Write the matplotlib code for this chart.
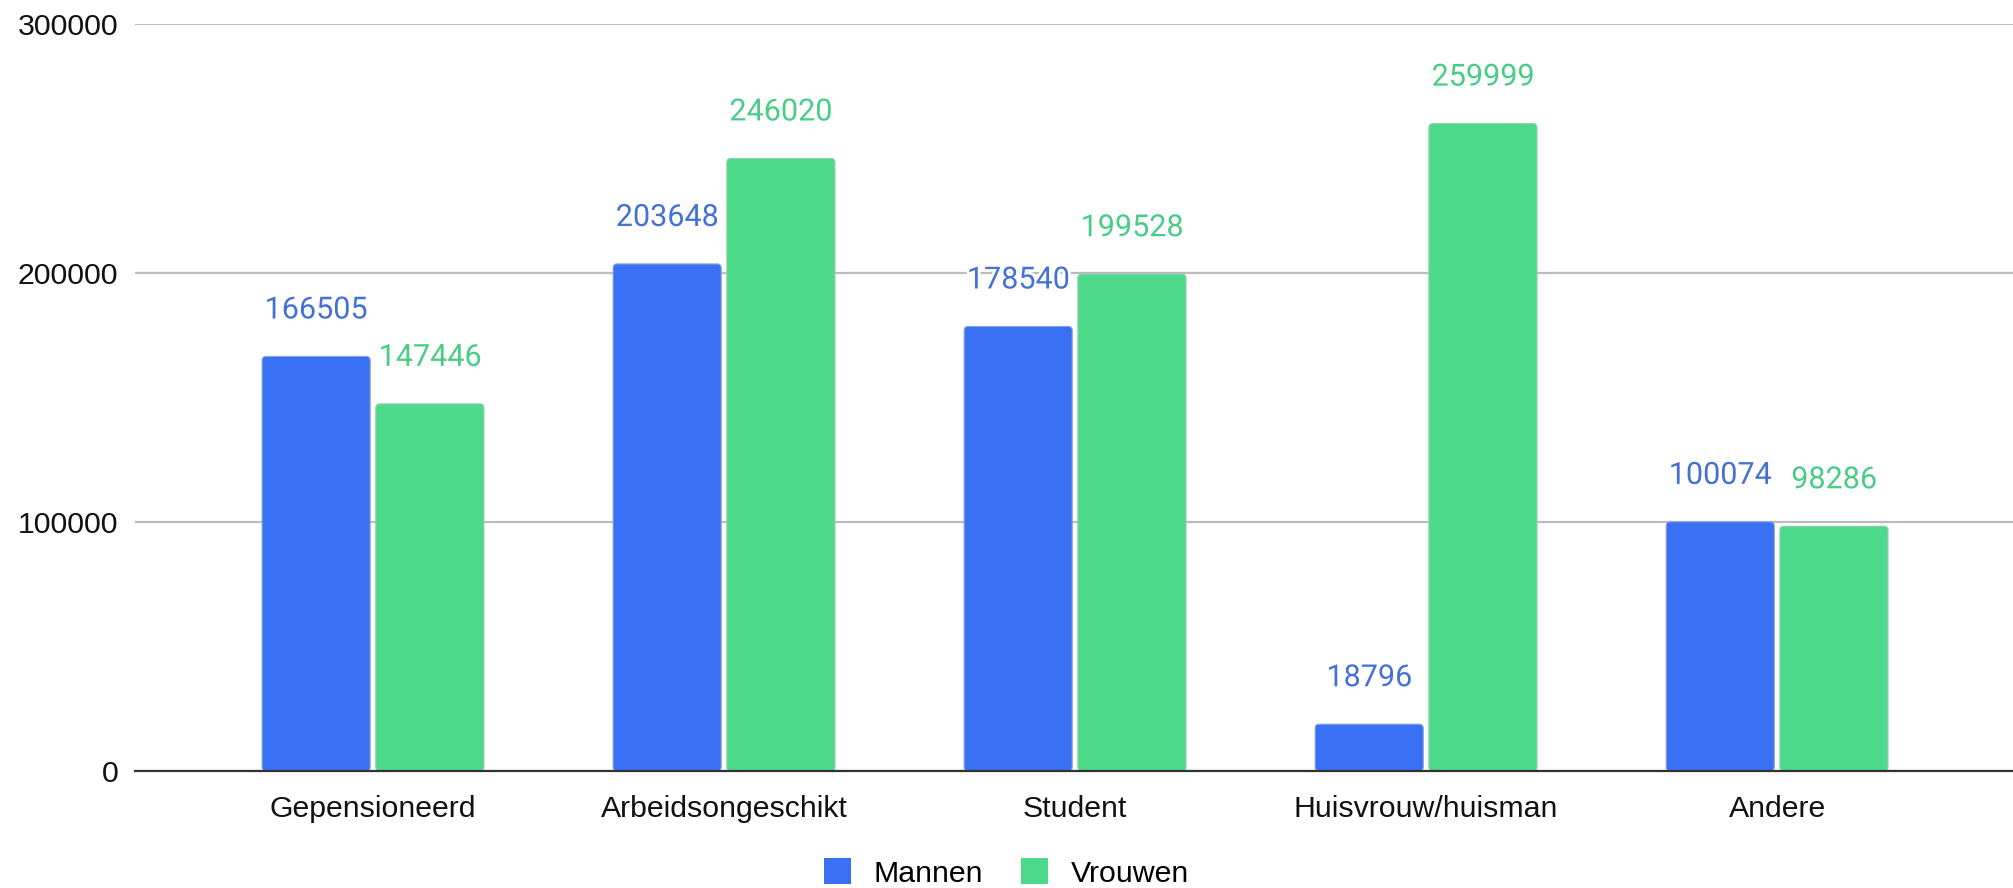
import matplotlib
matplotlib.use("Agg")
import matplotlib.pyplot as plt
import matplotlib.patheffects as pe
from matplotlib.patches import Patch, FancyBboxPatch
import numpy as np

categories = ["Gepensioneerd", "Arbeidsongeschikt", "Student", "Huisvrouw/huisman", "Andere"]
mannen = [166505, 203648, 178540, 18796, 100074]
vrouwen = [147446, 246020, 199528, 259999, 98286]
series_names = ["Mannen", "Vrouwen"]
yticks = [0, 100000, 200000, 300000]

blue = "#3a70f3"
green = "#4cd98a"
blue_txt = "#4570d4"
green_txt = "#48cc86"

W, H = 2013, 888
fig = plt.figure(figsize=(W / 100, H / 100), dpi=100)
ax = fig.add_axes([135 / W, (H - 771) / H, 1 - 135 / W, (771 - 24) / H])

ax.set_ylim(0, 300000)
ax.set_xlim(-0.678, 4.672)

x = np.arange(len(categories))
bw = 0.308
off = 0.162
bars_m = ax.bar(x - off, mannen, width=bw, color=blue, zorder=3)
bars_v = ax.bar(x + off, vrouwen, width=bw, color=green, zorder=3)

# replace rectangles with slightly rounded boxes
x_per_px = (4.672 + 0.678) / (W - 135)
y_per_px = 300000 / (771 - 24)
aspect = y_per_px / x_per_px
for bars, col, ec in [(bars_m, blue, "#8ea3d6"), (bars_v, green, "#92cfae")]:
    for b in bars:
        b.set_visible(False)
        fb = FancyBboxPatch((b.get_x(), b.get_y()), b.get_width(), b.get_height(),
                            boxstyle=f"round,pad=0,rounding_size={4 * x_per_px}",
                            mutation_aspect=aspect, facecolor=col, edgecolor=ec,
                            linewidth=0.8, zorder=3)
        ax.add_patch(fb)

halo = [pe.withStroke(linewidth=4, foreground="white")]
for bars, vals, col in [(bars_m, mannen, blue_txt), (bars_v, vrouwen, green_txt)]:
    for b, v in zip(bars, vals):
        ax.annotate(f"{v}", (b.get_x() + b.get_width() / 2, v), xytext=(0, 23),
                    textcoords="offset points", ha="center", va="bottom",
                    fontsize=22, color=col, family="Roboto", path_effects=halo, zorder=5)

ax.set_yticks(yticks)
ax.set_yticklabels([str(t) for t in yticks], family="Liberation Sans", fontsize=21.8, color="#111111")
ax.set_xticks(x)
ax.set_xticklabels(categories, family="Liberation Sans", fontsize=21.8, color="#111111")
ax.tick_params(axis="both", length=0)
ax.tick_params(axis="y", pad=12)
ax.tick_params(axis="x", pad=17)
for s in ["top", "right", "left"]:
    ax.spines[s].set_visible(False)
ax.spines["bottom"].set_color("#333333")
ax.spines["bottom"].set_linewidth(1.6)
ax.spines["bottom"].set_zorder(4)
ax.grid(axis="y", color="#bdbdbd", linewidth=1.6, zorder=0)
ax.set_axisbelow(True)

handles = [Patch(facecolor=blue, edgecolor="none"), Patch(facecolor=green, edgecolor="none")]
fig.legend(handles, series_names, loc="center", bbox_to_anchor=(0.5, 1 - 873 / H), ncol=2,
           frameon=False, prop={"family": "Liberation Sans", "size": 21.8},
           handlelength=0.9, handleheight=0.9, handletextpad=0.74, columnspacing=1.24,
           borderpad=0, borderaxespad=0)

fig.savefig("out.png", dpi=100, facecolor="white")
